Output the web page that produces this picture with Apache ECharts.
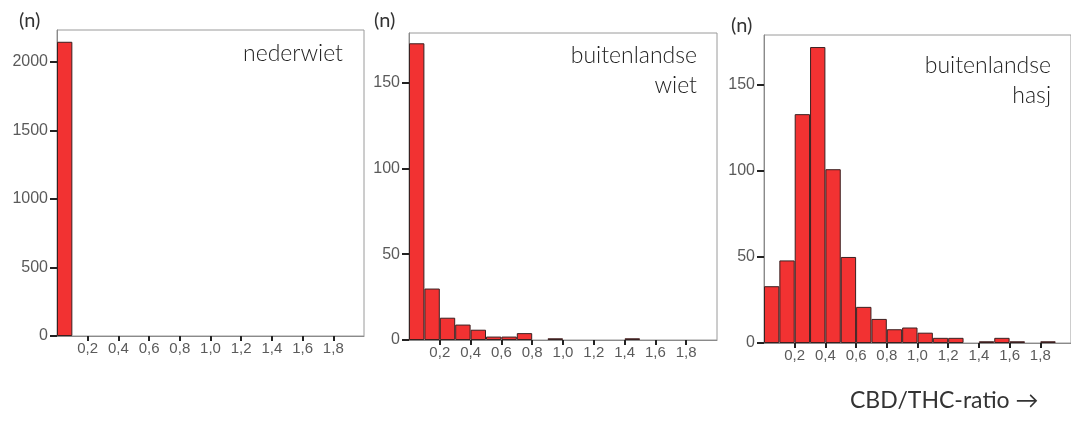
<!DOCTYPE html>
<html>
<head>
<meta charset="utf-8">
<script src="https://cdn.jsdelivr.net/npm/echarts@6/dist/echarts.min.js"></script>
<style>
html,body{margin:0;padding:0;background:#fff;}
#chart{width:1071px;height:421px;}
</style>
</head>
<body>
<div id="chart"></div>
<script>
// bins of CBD/THC-ratio, width 0.1, from 0 to 2.0
const bins = ['0-0.1','0.1-0.2','0.2-0.3','0.3-0.4','0.4-0.5','0.5-0.6','0.6-0.7','0.7-0.8','0.8-0.9','0.9-1.0',
              '1.0-1.1','1.1-1.2','1.2-1.3','1.3-1.4','1.4-1.5','1.5-1.6','1.6-1.7','1.7-1.8','1.8-1.9','1.9-2.0'];
const xTickValues = [0.2, 0.4, 0.6, 0.8, 1.0, 1.2, 1.4, 1.6, 1.8];
const yTicksNederwiet = [0, 500, 1000, 1500, 2000];
const yTicksBuitenland = [0, 50, 100, 150];

const nederwiet = [2148, 0, 0, 0, 0, 0, 0, 0, 0, 0, 0, 0, 0, 0, 0, 0, 0, 0, 0, 0];
const buitenlandseWiet = [173, 30, 13, 9, 6, 2, 2, 4, 0, 1, 0, 0, 0, 0, 1, 0, 0, 0, 0, 0];
const buitenlandseHasj = [33, 48, 133, 172, 101, 50, 21, 14, 8, 9, 6, 3, 3, 0, 1, 3, 1, 0, 1, 0];

const panelTitles = [['nederwiet'], ['buitenlandse', 'wiet'], ['buitenlandse', 'hasj']];
const yLabel = '(n)';
const xAxisTitle = 'CBD/THC-ratio \u2192';

const panels = [
  {data: nederwiet, yMax: 2234, yTicks: yTicksNederwiet, grid: {left: 57, top: 30, width: 307, height: 306}},
  {data: buitenlandseWiet, yMax: 179, yTicks: yTicksBuitenland, grid: {left: 409, top: 33, width: 308, height: 307}},
  {data: buitenlandseHasj, yMax: 179, yTicks: yTicksBuitenland, grid: {left: 764, top: 35, width: 309, height: 308}}
];

const labelFont = '"Liberation Sans", Arial, sans-serif';
const fmtX = v => v.toFixed(1).replace('.', ',');

const grids = [], xAxes = [], yAxes = [], series = [];
panels.forEach((p, i) => {
  grids.push(Object.assign({show: true, borderColor: '#9a9a9a', borderWidth: 1, backgroundColor: '#fff'}, p.grid));
  xAxes.push({
    type: 'category', gridIndex: i, data: bins, boundaryGap: true,
    axisLine: {show: false}, axisTick: {show: false}, axisLabel: {show: false}, splitLine: {show: false}
  });
  xAxes.push({
    type: 'value', gridIndex: i, min: 0, max: 2, interval: 0.2, position: 'bottom',
    axisLine: {show: true, onZero: false, lineStyle: {color: '#8a8a8a', width: 1}},
    axisTick: {show: true, length: 5, customValues: xTickValues, lineStyle: {color: '#222', width: 2}},
    axisLabel: {show: true, customValues: xTickValues, formatter: fmtX, color: '#5a5a5a', fontSize: 15, margin: 5, fontFamily: labelFont},
    splitLine: {show: false}
  });
  yAxes.push({
    type: 'value', gridIndex: i, min: 0, max: p.yMax,
    axisLine: {show: true, lineStyle: {color: '#8a8a8a', width: 1}},
    axisTick: {show: true, length: 7, customValues: p.yTicks, lineStyle: {color: '#222', width: 2}},
    axisLabel: {show: true, customValues: p.yTicks, formatter: v => String(v), color: '#5a5a5a', fontSize: 16, margin: 9, fontFamily: labelFont},
    splitLine: {show: false}
  });
  series.push({
    type: 'bar', xAxisIndex: i * 2, yAxisIndex: i,
    data: p.data.map(v => v === 0 ? '-' : v),
    barCategoryGap: '0%',
    itemStyle: {color: '#f23232', borderColor: '#3a2020', borderWidth: 1},
    silent: true, animation: false
  });
});

const titleFont = '300 23px Lato, "Liberation Sans", sans-serif';
const titleRight = [343, 697, 1051];
const titleTop = [42, 44, 54];
const graphic = [];
panelTitles.forEach((lines, i) => {
  lines.forEach((line, j) => {
    graphic.push({type: 'text', right: 1071 - titleRight[i], top: titleTop[i] + j * 30,
      style: {text: line, font: titleFont, fill: '#222'}});
  });
});
graphic.push(
  {type: 'text', left: 19, top: 11, style: {text: yLabel, font: '20px Lato, sans-serif', fill: '#333'}},
  {type: 'text', left: 374, top: 11, style: {text: yLabel, font: '20px Lato, sans-serif', fill: '#333'}},
  {type: 'text', left: 731, top: 16, style: {text: yLabel, font: '20px Lato, sans-serif', fill: '#333'}},
  {type: 'text', left: 850, top: 389, style: {text: xAxisTitle, font: '23px Lato, sans-serif', fill: '#333'}}
);

const chart = echarts.init(document.getElementById('chart'));
chart.setOption({
  animation: false,
  backgroundColor: '#fff',
  grid: grids,
  xAxis: xAxes,
  yAxis: yAxes,
  series: series,
  graphic: graphic
});
</script>
</body>
</html>
